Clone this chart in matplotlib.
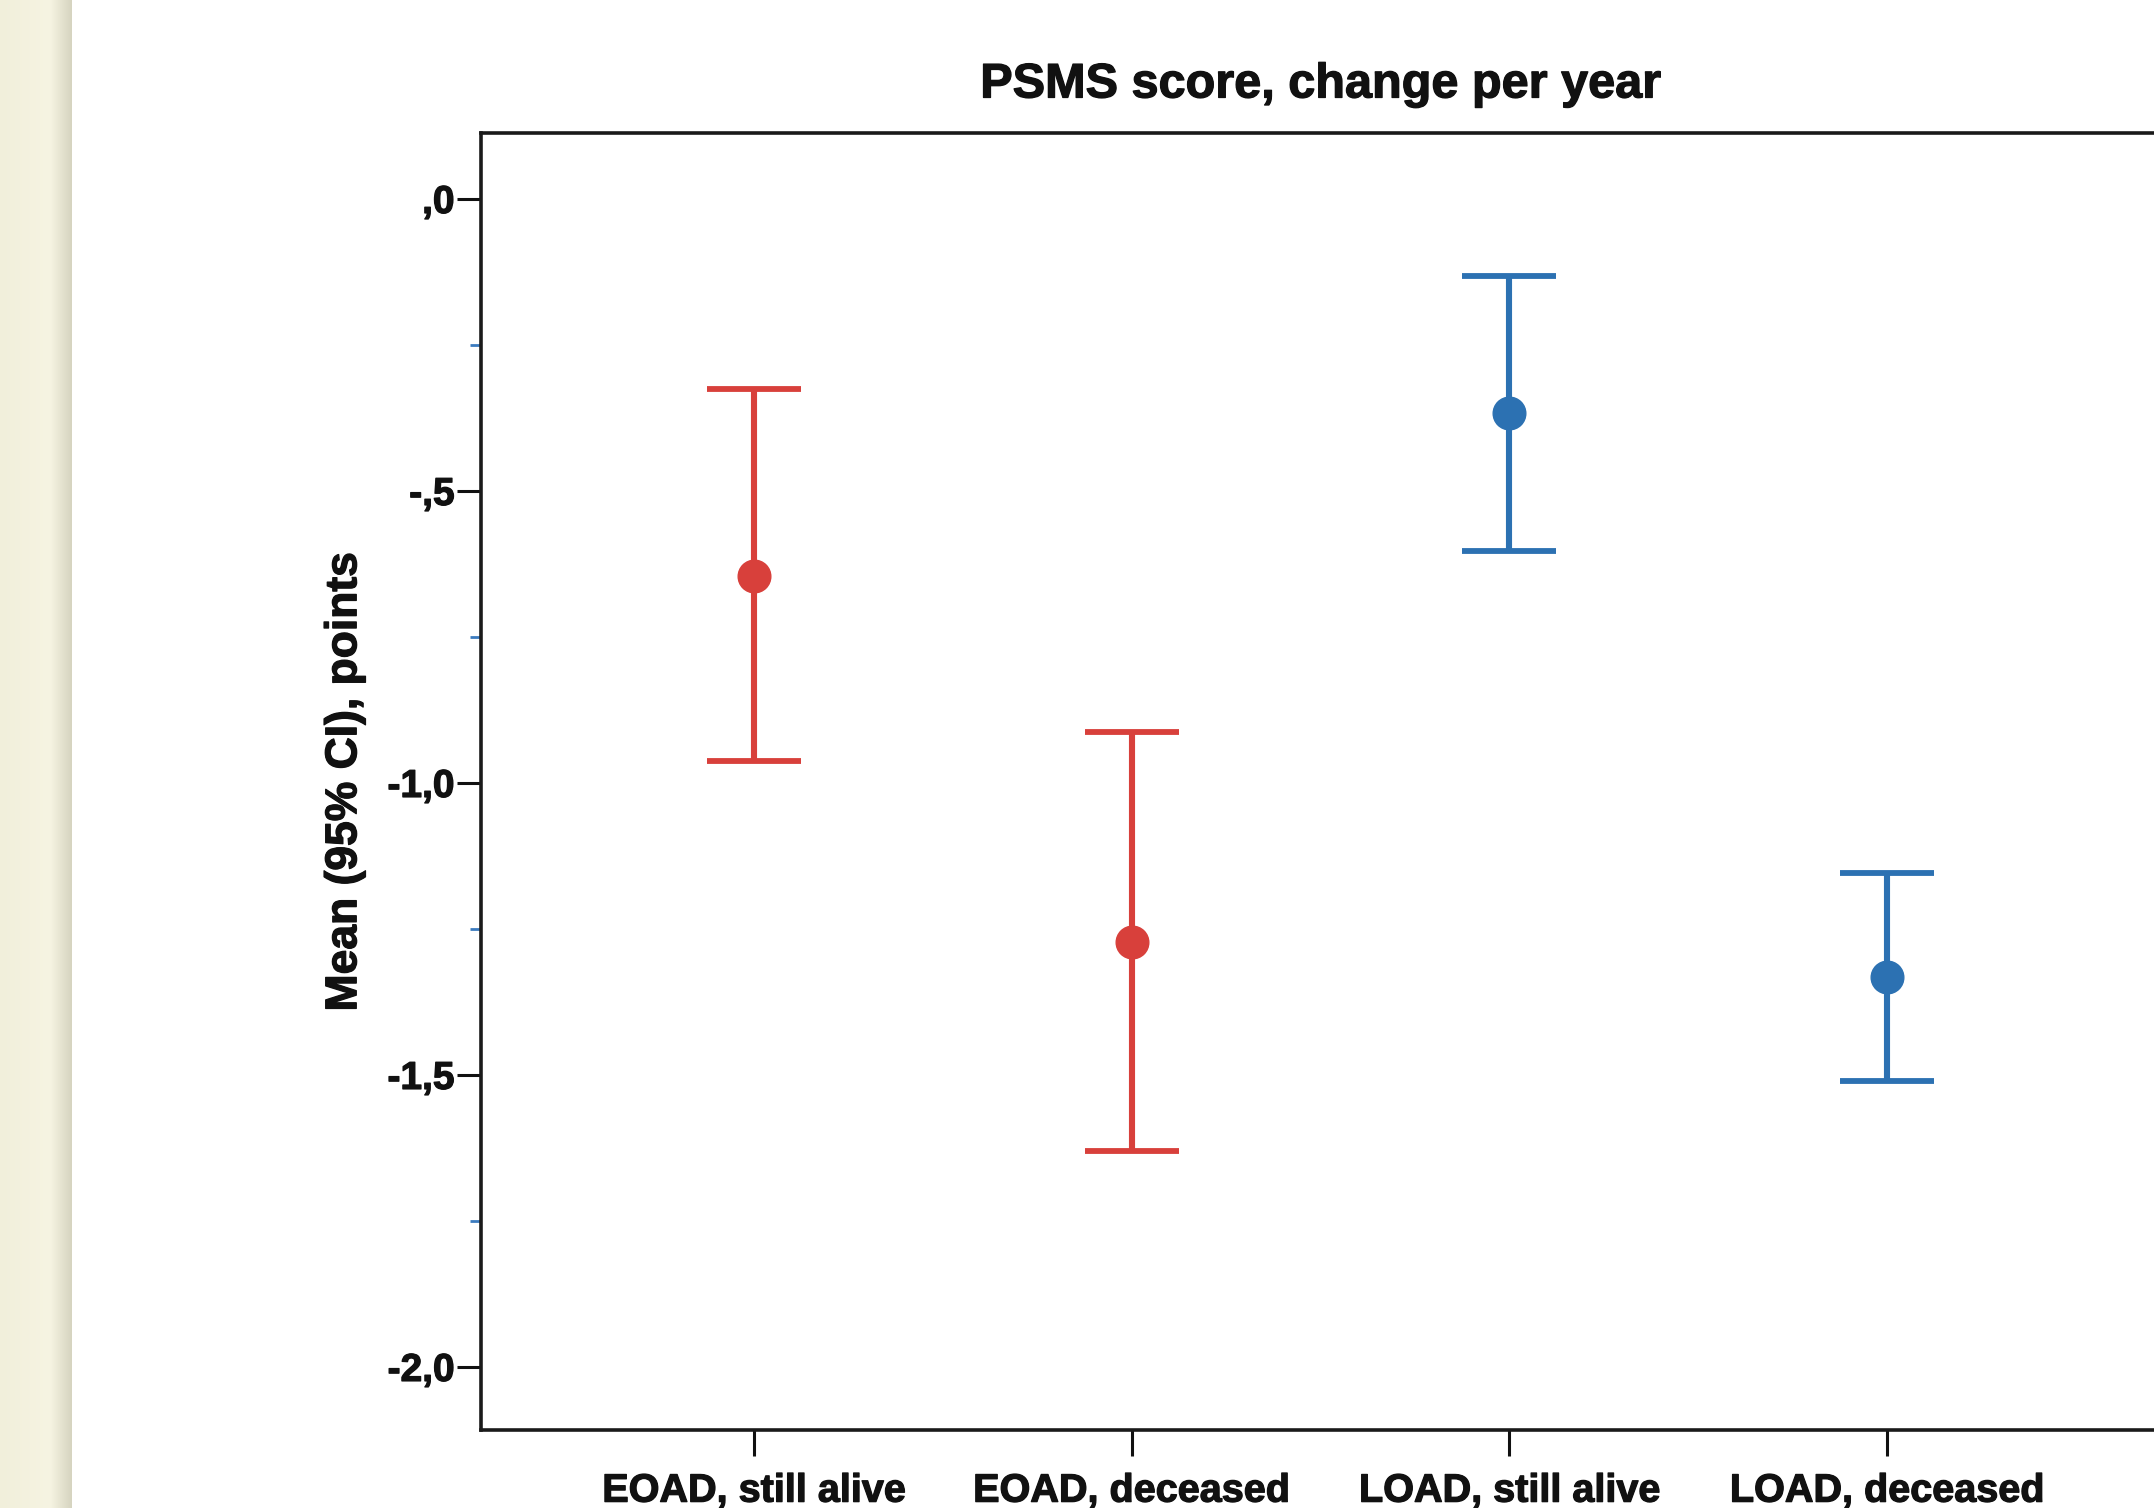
import numpy as np
import matplotlib
matplotlib.use("Agg")
import matplotlib.pyplot as plt
import matplotlib.patheffects as pe

# ---- data ----
categories = ["EOAD, still alive", "EOAD, deceased", "LOAD, still alive", "LOAD, deceased"]
means = [-0.645, -1.273, -0.367, -1.332]
ci_upper = [-0.325, -0.913, -0.132, -1.155]
ci_lower = [-0.962, -1.631, -0.602, -1.511]
group_colors = ["#D8403B", "#D8403B", "#2C71B2", "#2C71B2"]
yticks = [0.0, -0.5, -1.0, -1.5, -2.0]
ytick_labels = [",0", "-,5", "-1,0", "-1,5", "-2,0"]
yminor = [-0.25, -0.75, -1.25, -1.75]

plt.rcParams['font.family'] = ['Liberation Sans', 'DejaVu Sans']

W, H = 2154, 1508
fig = plt.figure(figsize=(W / 100, H / 100), dpi=100)
fig.patch.set_facecolor("white")

# beige strip on the left
strip = fig.add_axes([0, 0, 72 / W, 1])
grad = np.linspace(0, 1, 100)
r = np.interp(grad, [0, 0.7, 1], [241, 246, 214])
g = np.interp(grad, [0, 0.7, 1], [239, 244, 212])
b = np.interp(grad, [0, 0.7, 1], [219, 226, 192])
img = np.stack([r, g, b], axis=-1)[None, :, :] / 255.0
strip.imshow(img, aspect="auto", extent=[0, 1, 0, 1])
strip.set_axis_off()

left, right_px, top_px, bottom_px = 481, 2160, 133, 1430
ax = fig.add_axes([left / W, (H - bottom_px) / H, (right_px - left) / W, (bottom_px - top_px) / H])

x = np.arange(len(categories))
for i in range(len(categories)):
    yerr = [[means[i] - ci_lower[i]], [ci_upper[i] - means[i]]]
    ax.errorbar([x[i]], [means[i]], yerr=yerr, fmt="o", color=group_colors[i],
                markersize=23.5, elinewidth=4.4, capsize=34, capthick=4.2, zorder=3)

ax.set_xlim(-0.722, 3.722)
ax.set_ylim(-2.108, 0.113)

heavy = [pe.withStroke(linewidth=0.9, foreground="#111111")]

ax.set_xticks(x)
ax.set_xticklabels(categories, fontsize=28.5, fontweight="bold", color="#111111")
ax.set_yticks(yticks)
ax.set_yticklabels(ytick_labels, fontsize=28, fontweight="bold", color="#111111")
ax.set_yticks(yminor, minor=True)
for t in ax.get_xticklabels() + ax.get_yticklabels():
    t.set_path_effects(heavy)

ax.tick_params(axis="x", which="major", direction="out", length=19, width=2.2, pad=11, color="#111111")
ax.tick_params(axis="y", which="major", direction="out", length=17, width=2.2, pad=2, color="#111111")
ax.tick_params(axis="y", which="minor", direction="out", length=8, width=2.0, color="#3B7BBF")

for s in ax.spines.values():
    s.set_linewidth(2.6)
    s.set_color("#1a1a1a")

yl = ax.set_ylabel("Mean (95% CI), points", fontsize=32, fontweight="bold", labelpad=16, color="#111111")
yl.set_path_effects(heavy)
tt = fig.text((left + right_px) / 2 / W, 1 - 85 / H, "PSMS score, change per year",
              ha="center", va="center", fontsize=35, fontweight="bold", color="#111111")
tt.set_path_effects(heavy)

fig.savefig("out.png", dpi=100, facecolor="white")
